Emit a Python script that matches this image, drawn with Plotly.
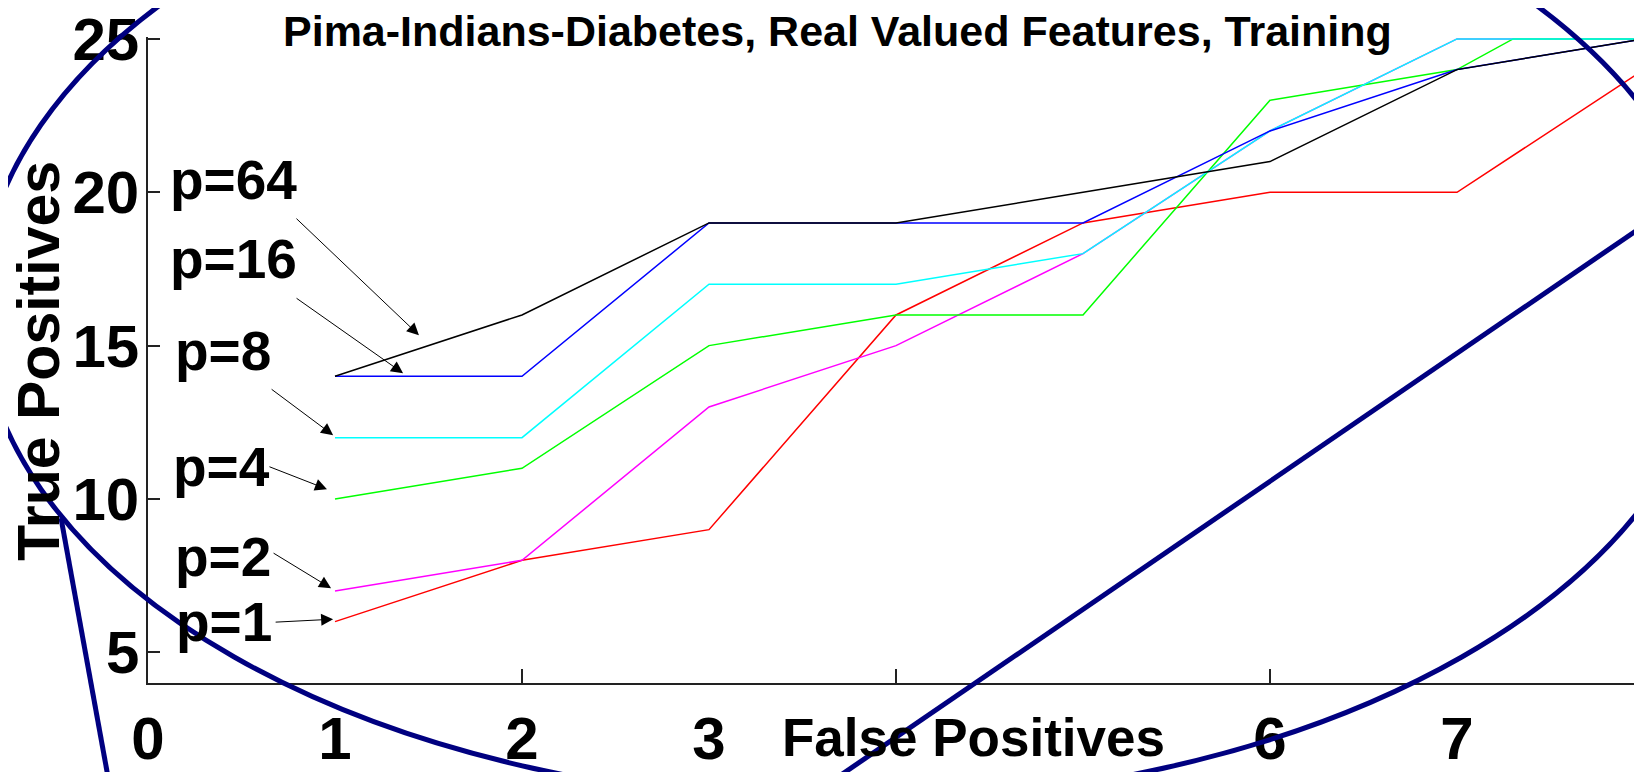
import plotly.graph_objects as go

# ---------------- data ----------------
fp = [1, 2, 3, 4, 5, 6, 7, 8]
tp_p1 = [6, 8, 9, 16, 19, 20, 20, 24]
tp_p2 = [7, 8, 13, 15, 18, 22, 25, 25]
fp_p4 = [1, 2, 3, 4, 5, 6, 7, 7.3, 8]
tp_p4 = [10, 11, 15, 16, 16, 23, 24, 25, 25]
tp_p8 = [12, 12, 17, 17, 18, 22, 25, 25]
tp_p16 = [14, 14, 19, 19, 19, 22, 24, 25]
tp_p64 = [14, 16, 19, 19, 20, 21, 24, 25]

x_ticks = [0, 1, 2, 3, 6, 7]
x_tick_text = ["0", "1", "2", "3", "6", "7"]
x_tick_marks = [2, 4, 6]
y_ticks = [5, 10, 15, 20, 25]

labels = ["p=64", "p=16", "p=8", "p=4", "p=2", "p=1"]
# arrow heads (data coords) and label anchors (data coords)
arrow_x = [1.449, 1.364, 0.99, 0.957, 0.979, 0.99]
arrow_y = [15.34, 14.10, 12.08, 10.32, 7.09, 6.08]
arrow_ax = [-124, -108, -63, -59, -59, -59]
arrow_ay = [-118, -76, -47, -23, -36, 3]
label_x = [0.107, 0.107, 0.134, 0.123, 0.134, 0.139]
label_y = [20.40, 17.82, 14.82, 11.04, 8.10, 5.98]

title_text = "Pima-Indians-Diabetes, Real Valued Features, Training"
x_title = "False Positives"
y_title = "True Positives"

FONT = "Liberation Sans, Arial, Helvetica, sans-serif"
OFF = 8  # page body margin offset (screen px = figure px + OFF)
W, H = 1642 - OFF, 772 - OFF
L, R, T, B = 148 - OFF, 0, 37 - OFF, 89
PW, PH = W - L - R, H - T - B


def px(xs):
    # screen pixel x -> paper coordinate
    return (xs - OFF - L) / PW


def py(ys):
    # screen pixel y -> paper coordinate
    return (H - B - (ys - OFF)) / PH


def bold(s):
    return "<b>" + s + "</b>"


fig = go.Figure()
series = [
    (fp, tp_p1, "#ff0000", "p=1"),
    (fp, tp_p2, "#ff00ff", "p=2"),
    (fp_p4, tp_p4, "#00ff00", "p=4"),
    (fp, tp_p8, "#00ffff", "p=8"),
    (fp, tp_p16, "#0000ff", "p=16"),
    (fp, tp_p64, "#000000", "p=64"),
]
for xs, ys, col, name in series:
    fig.add_trace(go.Scatter(x=xs, y=ys, mode="lines", name=name,
                             line=dict(color=col, width=1.5), showlegend=False))

annotations = []
for i, lab in enumerate(labels):
    annotations.append(dict(x=label_x[i], y=label_y[i], xref="x", yref="y", text=bold(lab),
                            showarrow=False, xanchor="left", yanchor="middle",
                            font=dict(family=FONT, size=55, color="black")))
    annotations.append(dict(x=arrow_x[i], y=arrow_y[i], xref="x", yref="y", text="",
                            showarrow=True, ax=arrow_ax[i], ay=arrow_ay[i],
                            arrowhead=2, arrowsize=2.4, arrowwidth=1, arrowcolor="black",
                            standoff=0, startstandoff=0))

annotations.append(dict(x=px(837), y=py(31), xref="paper", yref="paper", text=bold(title_text),
                        showarrow=False, xanchor="center", yanchor="middle",
                        font=dict(family=FONT, size=43, color="black")))
annotations.append(dict(x=px(973), y=py(737), xref="paper", yref="paper", text=bold(x_title),
                        showarrow=False, xanchor="center", yanchor="middle",
                        font=dict(family=FONT, size=53, color="black")))
annotations.append(dict(x=px(39), y=py(361), xref="paper", yref="paper", text=bold(y_title),
                        showarrow=False, xanchor="center", yanchor="middle", textangle=-90,
                        font=dict(family=FONT, size=59, color="black")))

NAVY = "#000080"
shapes = [
    dict(type="circle", xref="paper", yref="paper",
         x0=px(848 - 868), x1=px(848 + 868), y0=py(307 + 495), y1=py(307 - 495),
         line=dict(color=NAVY, width=5)),
    dict(type="line", xref="paper", yref="paper",
         x0=px(61), y0=py(518), x1=px(114), y1=py(810),
         line=dict(color=NAVY, width=5)),
    dict(type="line", xref="paper", yref="paper",
         x0=px(800), y0=py(803), x1=px(1700), y1=py(187),
         line=dict(color=NAVY, width=5)),
]

fig.update_layout(
    width=W, height=H,
    margin=dict(l=L, r=R, t=T, b=B, pad=0, autoexpand=False),
    paper_bgcolor="white", plot_bgcolor="white",
    showlegend=False,
    annotations=annotations,
    shapes=shapes,
    font=dict(family=FONT, color="black"),
    xaxis=dict(range=[0, PW / 187.0], tickmode="array", tickvals=x_ticks,
               ticktext=[bold(t) for t in x_tick_text], automargin=False,
               ticks="", showgrid=False, zeroline=False, showline=True,
               linecolor="#222222", linewidth=1.5,
               tickfont=dict(family=FONT, size=60, color="black"),
               ticklabelstandoff=2, ticklabeloverflow="allow",
               minor=dict(tickmode="array", tickvals=x_tick_marks, ticks="inside", ticklen=14,
                          tickwidth=1.5, tickcolor="#222222", showgrid=False)),
    yaxis=dict(range=[4, 4 + PH / 30.67], tickmode="array", tickvals=y_ticks,
               ticktext=[bold(str(v)) for v in y_ticks], automargin=False,
               ticks="inside", ticklen=12, tickwidth=1.5, tickcolor="#222222",
               showgrid=False, zeroline=False, showline=True,
               linecolor="#222222", linewidth=1.5,
               tickfont=dict(family=FONT, size=60, color="black"),
               ticklabelstandoff=-5, ticklabeloverflow="allow"),
)

fig.write_html("out.html")
